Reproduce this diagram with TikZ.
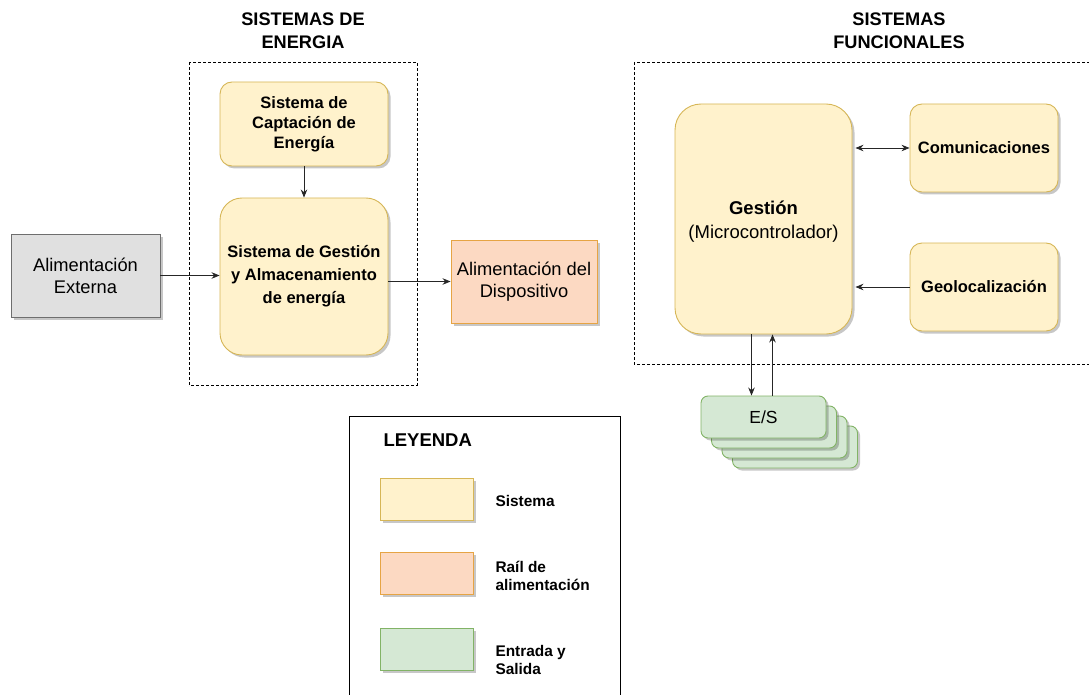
\documentclass[tikz,border=0pt]{standalone}
\usepackage{fontspec}
\setmainfont{Liberation Sans}
\usetikzlibrary{arrows.meta,shadows}

\definecolor{sysfill}{HTML}{FFF2CC}
\definecolor{sysdraw}{HTML}{D6B656}
\definecolor{railfill}{HTML}{FCD9C2}
\definecolor{raildraw}{HTML}{E6A444}
\definecolor{iofill}{HTML}{D5E8D4}
\definecolor{iodraw}{HTML}{82B366}
\definecolor{extfill}{HTML}{E0E0E0}
\definecolor{extdraw}{HTML}{6E6E6E}

\tikzset{
	shad/.style={drop shadow={shadow xshift=2.5pt, shadow yshift=-2.5pt, fill=black, opacity=0.22}},
	sysbox/.style={shad, draw=sysdraw, fill=sysfill, line width=0.9pt, align=center, inner sep=2pt,
		font=\fontsize{16.5}{20}\selectfont\bfseries},
	railbox/.style={shad, draw=raildraw, fill=railfill, line width=0.9pt, align=center,
		font=\fontsize{18.3}{22}\selectfont},
	iobox/.style={shad, draw=iodraw, fill=iofill, line width=0.9pt, rounded corners=7pt,
		minimum width=125pt, minimum height=42pt, font=\fontsize{17.5}{20}\selectfont},
	extbox/.style={shad, draw=extdraw, fill=extfill, line width=0.9pt, align=center,
		font=\fontsize{18.3}{22}\selectfont},
	group/.style={draw, line width=0.8pt, dash pattern=on 3pt off 2pt},
	title/.style={align=center, font=\fontsize{18.2}{23}\selectfont\bfseries},
	legtext/.style={anchor=west, align=left, font=\fontsize{15.4}{18.5}\selectfont\bfseries},
	flow/.style={-{Stealth[length=8pt,width=6.5pt]}, line width=0.8pt, draw=black!85}
}

\begin{document}
\begin{tikzpicture}[x=1pt, y=-1pt]
\useasboundingbox (0,0) rectangle (1089,695);

%titles
\node[title] (tEner) at (303,31) {SISTEMAS DE\\ENERGIA};
\node[title] (tFunc) at (899,31) {SISTEMAS\\FUNCIONALES};

%groups
\draw[group] (189,62) rectangle (417,385);
\draw[group] (634,62) rectangle (1095,364);

%energy side
\node[sysbox, rounded corners=12pt, minimum width=168pt, minimum height=84pt] (capt) at (304,124) {Sistema de\\Captación de\\Energía};
\node[sysbox, rounded corners=22pt, minimum width=168pt, minimum height=157pt,
	font=\fontsize{16.5}{23}\selectfont\bfseries] (gest) at (304,276.5) {Sistema de Gestión\\y Almacenamiento\\de energía};
\node[extbox, minimum width=149pt, minimum height=83pt] (ext) at (85.5,275.5) {Alimentación\\Externa};
\node[railbox, minimum width=146pt, minimum height=83pt] (disp) at (524,281.5) {Alimentación del\\Dispositivo};

\draw[flow] (capt) -- (gest);
\draw[flow] (ext) -- (ext -| gest.west);
\draw[flow] (gest.east |- disp) -- (disp);

%functional side
\node[sysbox, rounded corners=26pt, minimum width=177pt, minimum height=230pt] (micro) at (763.5,219) {};
\node[align=center, font=\fontsize{18.5}{24}\selectfont] (microTxt) at (763.5,222) {\textbf{Gestión}\\(Microcontrolador)};
\node[sysbox, rounded corners=12pt, minimum width=148pt, minimum height=88pt] (comm) at (984,148) {Comunicaciones};
\node[sysbox, rounded corners=12pt, minimum width=148pt, minimum height=88pt] (geo) at (984,287) {Geolocalización};

\draw[flow, {Stealth[length=8pt,width=6.5pt]}-{Stealth[length=8pt,width=6.5pt]}] ([xshift=3pt]micro.east |- comm) -- (comm.west);
\draw[flow] (geo.west) -- ([xshift=3pt]micro.east |- geo);

%E/S stack
\foreach \i in {3,2,1}
	\node[iobox] at (763.5+10.5*\i, 417+10*\i) {};
\node[iobox] (io) at (763.5,417) {E/S};

\draw[flow] ([xshift=-12pt]micro.south) -- ([xshift=-12pt]io.north);
\draw[flow] ([xshift=9pt]io.north) -- ([xshift=9pt]micro.south);

%legend
\draw[line width=0.8pt] (349,700) |- (620,416) -- (620,700);
\node[anchor=west, font=\fontsize{18.5}{20}\selectfont\bfseries] (leg) at (380,440) {LEYENDA};
\node[sysbox, rounded corners=0pt, minimum width=93pt, minimum height=42pt] (lSys) at (426.5,499) {};
\node[railbox, minimum width=93pt, minimum height=42pt] (lRail) at (426.5,573) {};
\node[iobox, rounded corners=0pt, minimum width=93pt, minimum height=42pt] (lIO) at (426.5,649) {};
\node[legtext] (tSys) at (492,501) {Sistema};
\node[legtext] (tRail) at (492,576) {Raíl de\\alimentación};
\node[legtext] (tIO) at (492,660) {Entrada y\\Salida};

\end{tikzpicture}
\end{document}
